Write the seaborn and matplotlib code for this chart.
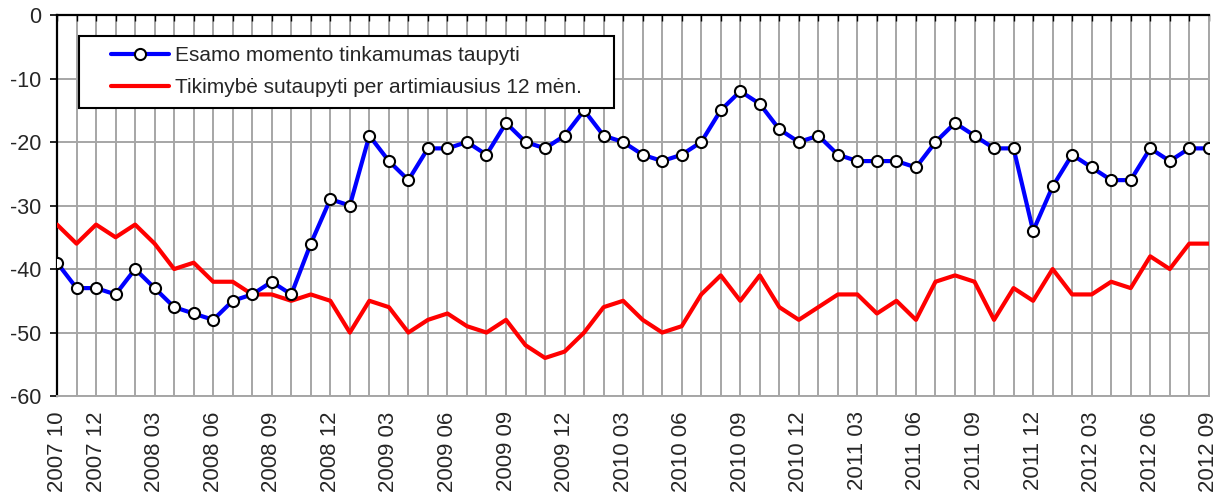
import numpy as np
import pandas as pd
import seaborn as sns
import matplotlib.pyplot as plt
from matplotlib.lines import Line2D
from matplotlib.legend_handler import HandlerLine2D

# monthly data 2007 10 .. 2012 09
months = ['2007 10', '2007 11', '2007 12',
          '2008 01', '2008 02', '2008 03', '2008 04', '2008 05', '2008 06',
          '2008 07', '2008 08', '2008 09', '2008 10', '2008 11', '2008 12',
          '2009 01', '2009 02', '2009 03', '2009 04', '2009 05', '2009 06',
          '2009 07', '2009 08', '2009 09', '2009 10', '2009 11', '2009 12',
          '2010 01', '2010 02', '2010 03', '2010 04', '2010 05', '2010 06',
          '2010 07', '2010 08', '2010 09', '2010 10', '2010 11', '2010 12',
          '2011 01', '2011 02', '2011 03', '2011 04', '2011 05', '2011 06',
          '2011 07', '2011 08', '2011 09', '2011 10', '2011 11', '2011 12',
          '2012 01', '2012 02', '2012 03', '2012 04', '2012 05', '2012 06',
          '2012 07', '2012 08', '2012 09']

esamo = [-39, -43, -43,
         -44, -40, -43, -46, -47, -48, -45, -44, -42, -44, -36, -29,
         -30, -19, -23, -26, -21, -21, -20, -22, -17, -20, -21, -19,
         -15, -19, -20, -22, -23, -22, -20, -15, -12, -14, -18, -20,
         -19, -22, -23, -23, -23, -24, -20, -17, -19, -21, -21, -34,
         -27, -22, -24, -26, -26, -21, -23, -21, -21]

tikimybe = [-33, -36, -33,
            -35, -33, -36, -40, -39, -42, -42, -44, -44, -45, -44, -45,
            -50, -45, -46, -50, -48, -47, -49, -50, -48, -52, -54, -53,
            -50, -46, -45, -48, -50, -49, -44, -41, -45, -41, -46, -48,
            -46, -44, -44, -47, -45, -48, -42, -41, -42, -48, -43, -45,
            -40, -44, -44, -42, -43, -38, -40, -36, -36]

shown = ['2007 10', '2007 12', '2008 03', '2008 06', '2008 09', '2008 12',
         '2009 03', '2009 06', '2009 09', '2009 12', '2010 03', '2010 06',
         '2010 09', '2010 12', '2011 03', '2011 06', '2011 09', '2011 12',
         '2012 03', '2012 06', '2012 09']

name1 = 'Esamo momento tinkamumas taupyti'
name2 = 'Tikimybė sutaupyti per artimiausius 12 mėn.'

df = pd.DataFrame({'i': np.arange(len(months)), 'month': months,
                   'esamo': esamo, 'tikimybe': tikimybe})

sns.set_style('white')
plt.rcParams['font.family'] = ['Liberation Sans', 'DejaVu Sans']
plt.rcParams['axes.unicode_minus'] = False

fig, ax = plt.subplots(figsize=(12.21, 4.92), dpi=100)
fig.subplots_adjust(left=0.0467, right=0.990, top=0.9695, bottom=0.195)

sns.lineplot(data=df, x='i', y='tikimybe', ax=ax, color='#ff0000',
             linewidth=3, label=name2, zorder=3)
sns.lineplot(data=df, x='i', y='esamo', ax=ax, color='#0000ff',
             linewidth=3, marker='o', markersize=8, markerfacecolor='white',
             markeredgecolor='black', markeredgewidth=1.5, label=name1,
             zorder=4)

ax.set_xlim(0, len(months) - 1)
ax.set_ylim(-60, 0)
ax.set_yticks(range(-60, 1, 10))
ax.set_xticks(df['i'])
ax.set_xticklabels([m if m in shown else '' for m in months],
                   rotation=90, fontsize=16)
ax.set_xlabel('')
ax.set_ylabel('')

grid = '#a6a6a6'
ax.grid(True, color=grid, linewidth=1.4, zorder=0)
ax.set_axisbelow(True)
ax.tick_params(axis='x', bottom=False, top=True, labelbottom=True,
               labeltop=False, direction='in', length=4.5, width=1,
               color='black', pad=11)
ax.tick_params(axis='y', left=True, direction='out', length=5, width=1.2,
               color='black', labelsize=15.5, pad=6)
for s in ['left', 'top']:
    ax.spines[s].set_color('black')
    ax.spines[s].set_linewidth(1.6)
for s in ['right', 'bottom']:
    ax.spines[s].set_color(grid)
    ax.spines[s].set_linewidth(1.4)

h, l = ax.get_legend_handles_labels()
order = [l.index(name1), l.index(name2)]
leg = ax.legend([h[k] for k in order], [l[k] for k in order],
                loc='upper left', bbox_to_anchor=(0.0191, 0.756, 0.4644, 0.189),
                mode='expand', borderaxespad=0, fontsize=15, fancybox=False,
                framealpha=1, edgecolor='black', borderpad=0.5,
                labelspacing=0.62, handlelength=3.8, handletextpad=0.3,
                numpoints=1, handler_map={Line2D: HandlerLine2D(xpad=1.05)})
leg.get_frame().set_linewidth(1.5)
leg.set_zorder(10)

plt.savefig('out.png', dpi=100)
